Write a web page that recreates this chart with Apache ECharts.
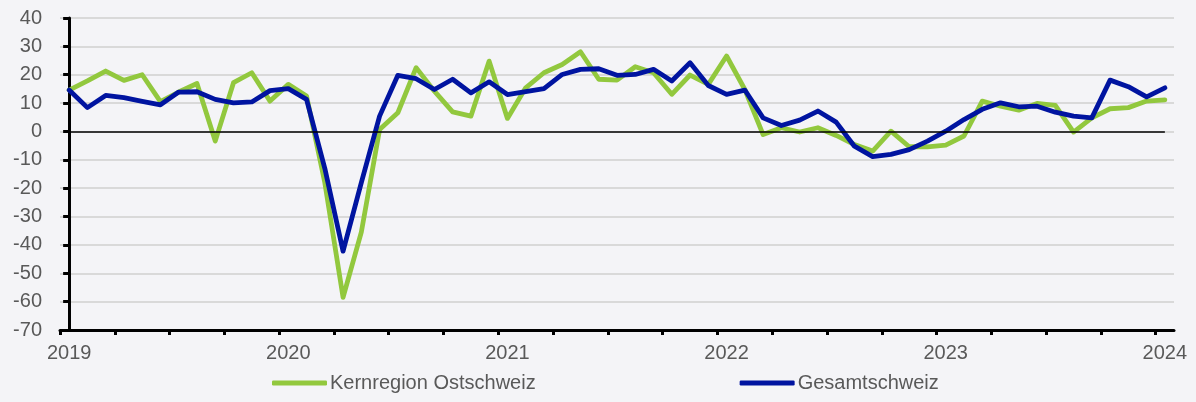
<!DOCTYPE html>
<html>
<head>
<meta charset="utf-8">
<script src="https://cdn.jsdelivr.net/npm/echarts@6/dist/echarts.min.js"></script>
<style>
html,body{margin:0;padding:0;background:#f4f4f7;}
#chart{width:1196px;height:402px;}
</style>
</head>
<body>
<div id="chart"></div>
<script>
// Monthly observations, Jan 2019 .. Jan 2024
var startYear = 2019;
var yearLabels = ['2019', '2020', '2021', '2022', '2023', '2024'];
var seriesNames = ['Kernregion Ostschweiz', 'Gesamtschweiz'];

var ostschweiz = [
  14.6, 17.8, 21.3, 18.0, 20.0, 10.5, 13.9, 16.9, -3.4, 17.2, 20.7, 10.7,
  16.6, 12.5, -18.0, -58.5, -35.5, 0.7, 6.6, 22.5, 14.2, 6.9, 5.4, 24.8,
  4.6, 15.4, 20.7, 23.6, 28.1, 18.4, 18.1, 22.8, 20.7, 13.1, 19.9, 16.6,
  26.6, 14.8, -1.1, 1.3, -0.2, 1.3, -1.4, -4.6, -6.9, 0.1, -5.4, -5.4,
  -4.8, -1.6, 10.7, 8.9, 7.5, 9.9, 9.2, -0.2, 4.8, 8.0, 8.4, 10.7,
  11.1
];

var gesamtschweiz = [
  14.6, 8.4, 12.7, 11.9, 10.6, 9.4, 13.9, 14.0, 11.3, 10.1, 10.4, 14.4,
  15.1, 11.3, -13.0, -42.2, -18.0, 5.4, 19.8, 18.6, 14.8, 18.4, 13.6, 17.5,
  13.0, 14.0, 15.1, 20.1, 21.9, 22.1, 19.8, 20.1, 21.9, 17.8, 24.2, 16.2,
  13.1, 14.6, 4.8, 2.1, 4.0, 7.2, 3.3, -5.2, -8.9, -8.1, -6.4, -3.4,
  0.1, 4.2, 7.8, 10.1, 8.7, 8.9, 6.8, 5.4, 4.8, 18.1, 15.8, 12.2,
  15.4
];

var yTicks = [-70, -60, -50, -40, -30, -20, -10, 0, 10, 20, 30, 40];

// build library inputs
var n = ostschweiz.length;
function pairs(arr) { return arr.map(function (v, i) { return [i, v]; }); }
var tickVals = [];
for (var t = 0; t <= n - 1; t += 3) tickVals.push(t - 0.5);
var labelVals = yearLabels.map(function (y, k) { return k * 12; });

var chart = echarts.init(document.getElementById('chart'), null, {renderer: 'canvas'});
var FONT = 'Liberation Sans, Arial, sans-serif';
var option = {
  backgroundColor: '#f4f4f7',
  animation: false,
  grid: {left: 60, right: 22, top: 18, bottom: 72, containLabel: false},
  legend: {
    data: seriesNames,
    bottom: 4,
    left: 267,
    itemGap: 204,
    itemWidth: 55,
    itemHeight: 5,
    icon: 'roundRect',
    textStyle: {fontFamily: FONT, fontSize: 20, color: '#595959', padding: [0, 0, 0, -2]}
  },
  xAxis: {
    type: 'value',
    min: -0.5,
    max: n - 0.5,
    splitLine: {show: false},
    axisLine: {show: true, onZero: false, lineStyle: {color: '#000', width: 3}},
    axisTick: {show: true, length: 5, customValues: tickVals, lineStyle: {color: '#000', width: 3}},
    axisLabel: {
      customValues: labelVals,
      margin: 13,
      fontFamily: FONT, fontSize: 20, color: '#595959',
      formatter: function (v) { return yearLabels[Math.round(v / 12)]; }
    }
  },
  yAxis: {
    type: 'value',
    min: yTicks[0],
    max: yTicks[yTicks.length - 1],
    interval: 10,
    axisLine: {show: true, lineStyle: {color: '#000', width: 3}},
    axisTick: {show: true, length: 6, lineStyle: {color: '#000', width: 3}},
    splitLine: {show: true, lineStyle: {color: '#d9d9d9', width: 2}},
    axisLabel: {margin: 18, fontFamily: FONT, fontSize: 20, color: '#595959'}
  },
  series: [
    {
      name: '_zero',
      type: 'line',
      data: [],
      z: 1,
      silent: true,
      markLine: {
        silent: true,
        symbol: ['none', 'none'],
        label: {show: false},
        lineStyle: {color: '#000', width: 1.5, type: 'solid'},
        data: [[{coord: [0, 0]}, {coord: [n - 1, 0]}]]
      }
    },
    {
      name: seriesNames[0],
      type: 'line',
      data: pairs(ostschweiz),
      z: 2,
      showSymbol: false,
      symbol: 'none',
      color: '#92c83e',
      lineStyle: {color: '#92c83e', width: 4.8, cap: 'round', join: 'round'}
    },
    {
      name: seriesNames[1],
      type: 'line',
      data: pairs(gesamtschweiz),
      z: 3,
      showSymbol: false,
      symbol: 'none',
      color: '#0014a0',
      lineStyle: {color: '#0014a0', width: 4.8, cap: 'round', join: 'round'}
    }
  ]
};
chart.setOption(option);
</script>
</body>
</html>
